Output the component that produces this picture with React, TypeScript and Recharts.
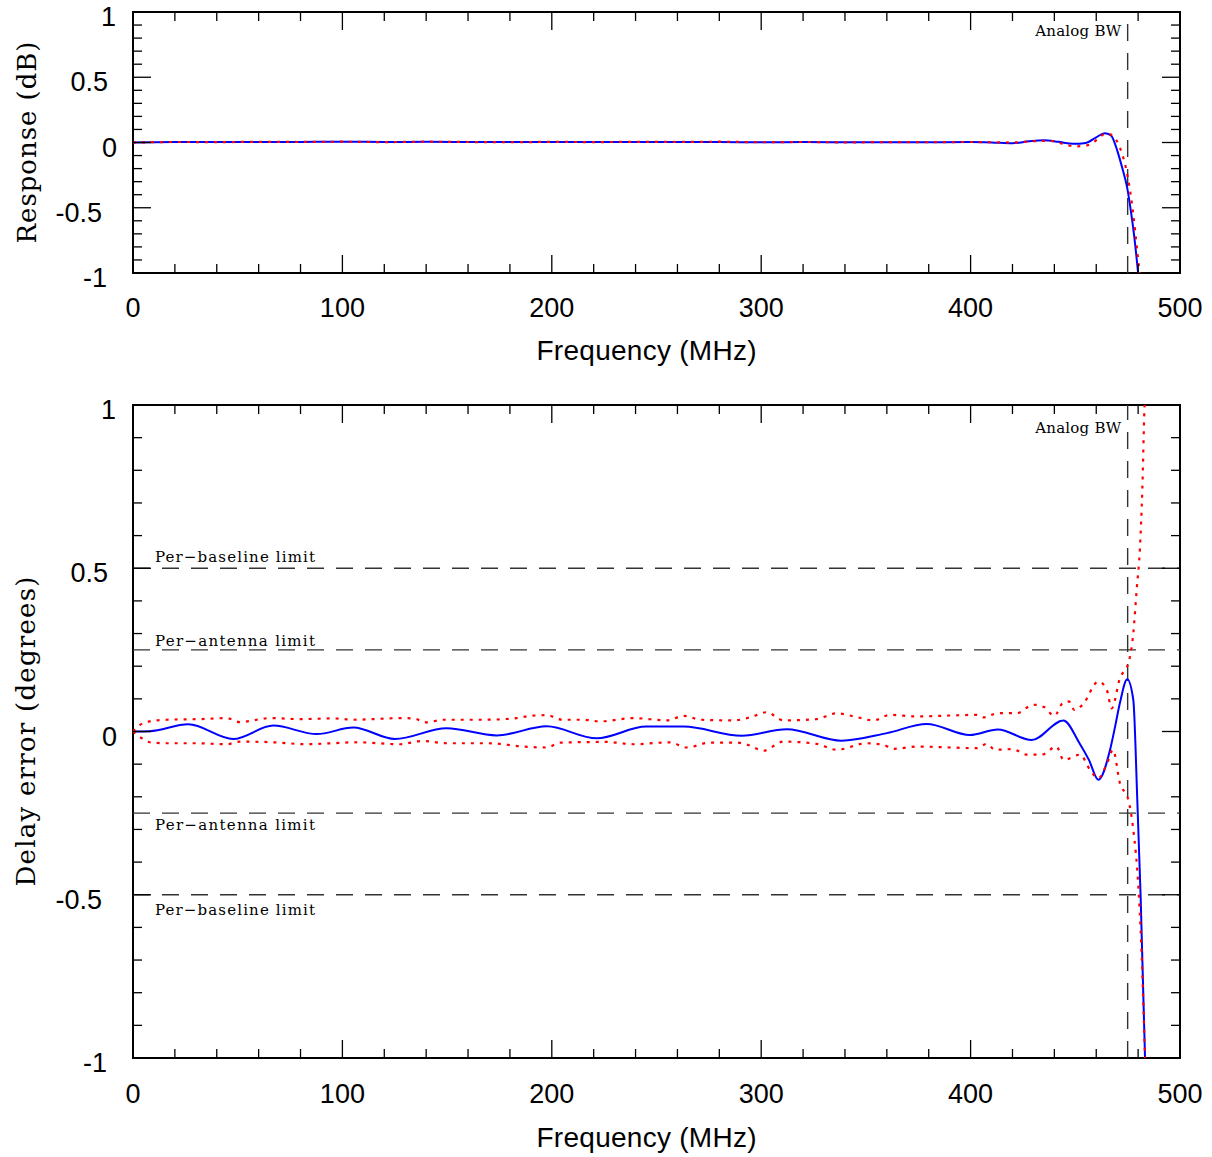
import React from 'react';
import { LineChart, Line, XAxis, YAxis, ReferenceLine, ReferenceArea, Label } from 'recharts';

// ---------- Data ----------
const xTicks = [0, 20, 40, 60, 80, 100, 120, 140, 160, 180, 200, 220, 240, 260, 280, 300, 320, 340, 360, 380, 400, 420, 440, 460, 480, 500];
const yTicks = [-1, -0.9, -0.8, -0.7, -0.6, -0.5, -0.4, -0.3, -0.2, -0.1, 0, 0.1, 0.2, 0.3, 0.4, 0.5, 0.6, 0.7, 0.8, 0.9, 1];
const analogBW = 475;
const baselineLimit = 0.5;
const antennaLimit = 0.25;

// Top panel: response (dB)
const respBlueFreq = [0, 20, 40, 60, 80, 100, 120, 140, 160, 180, 200, 220, 240, 260, 280, 300, 320, 340, 360, 380, 400, 410, 420, 428, 435, 442, 449, 455, 460, 464, 467, 470, 472.5, 474.7, 476.5, 478, 480, 481.5];
const respBlue = [0, 0.003, 0.004, 0.003, 0.004, 0.006, 0.004, 0.005, 0.004, 0.003, 0.004, 0.003, 0.004, 0.003, 0.004, 0.001, 0.003, 0.002, 0.001, 0.002, 0.003, 0.0, -0.006, 0.01, 0.018, 0.005, -0.01, -0.003, 0.04, 0.07, 0.055, -0.06, -0.2, -0.34, -0.52, -0.7, -1.0, -1.25];
const respRedFreq = [0, 20, 40, 60, 80, 100, 120, 140, 160, 180, 200, 220, 240, 260, 280, 300, 320, 340, 360, 380, 400, 410, 420, 430, 438, 444, 450, 456, 461, 464.5, 468, 470.5, 472.8, 475, 477.6, 479.5, 481, 482];
const respRed = [0, 0.004, 0.003, 0.005, 0.004, 0.006, 0.003, 0.006, 0.004, 0.002, 0.005, 0.003, 0.005, 0.004, 0.006, 0.002, 0.004, 0.001, 0.003, 0.002, 0.004, 0.002, 0.0, 0.01, 0.012, -0.01, -0.03, -0.02, 0.03, 0.07, 0.05, -0.01, -0.11, -0.26, -0.54, -0.82, -1.05, -1.2];

// Bottom panel: delay error (degrees)
const delayBlueFreq = [0, 8, 26.4, 47.9, 67, 87.7, 105.2, 125.1, 149.8, 173.7, 197.6, 221.4, 245, 263, 290.7, 312.2, 338.4, 360, 379.1, 399.7, 413, 429.2, 444.3, 452, 456.5, 461, 466.6, 469, 471.3, 474.8, 477.7, 479.6, 481.2, 483.3, 484];
const delayBlue = [0, 0.001, 0.022, -0.023, 0.018, -0.008, 0.012, -0.023, 0.010, -0.012, 0.016, -0.021, 0.015, 0.015, -0.013, 0.007, -0.028, -0.005, 0.023, -0.011, 0.006, -0.026, 0.034, -0.036, -0.087, -0.148, -0.056, 0.015, 0.087, 0.16, 0.097, -0.209, -0.505, -1.0, -1.2];
const delayUpperFreq = [0, 3.3, 8, 16, 32, 44.7, 51, 65.4, 79.8, 95.7, 105.2, 127.5, 134, 140.2, 148.2, 167.3, 183.2, 189.6, 197.6, 205, 215, 223, 239, 255, 263, 271, 287, 295, 302.6, 310.6, 326.5, 336, 345.6, 353.5, 361.5, 374, 390, 403, 406, 413, 422, 430, 435, 440, 444, 447, 449.5, 453.5, 461, 465, 467.4, 471.3, 475.3, 477.7, 479.3, 480.9, 482, 483, 484];
const delayUpper = [0, 0.02, 0.031, 0.036, 0.038, 0.041, 0.029, 0.041, 0.038, 0.04, 0.036, 0.041, 0.04, 0.028, 0.036, 0.036, 0.041, 0.048, 0.05, 0.036, 0.036, 0.031, 0.041, 0.034, 0.048, 0.036, 0.034, 0.044, 0.059, 0.034, 0.038, 0.056, 0.044, 0.034, 0.051, 0.046, 0.049, 0.051, 0.043, 0.056, 0.056, 0.082, 0.075, 0.048, 0.087, 0.092, 0.066, 0.082, 0.153, 0.128, 0.071, 0.163, 0.209, 0.301, 0.434, 0.566, 0.74, 0.985, 1.1];
const delayLowerFreq = [0, 4, 8, 16, 30, 44.7, 51, 67, 83, 95, 107, 127.5, 138, 150, 170, 186, 197.6, 204, 226, 239, 256.4, 264.4, 275.6, 288.3, 294.6, 301, 310.6, 326.5, 336, 350.4, 358.4, 363.1, 375, 390.2, 402.9, 407.7, 411.7, 420, 427, 434, 441, 444.4, 452.3, 457, 461, 465.2, 468, 471.3, 475.3, 477.7, 480, 481.6, 483.3, 484];
const delayLower = [0, -0.02, -0.033, -0.036, -0.036, -0.039, -0.031, -0.033, -0.039, -0.036, -0.033, -0.039, -0.029, -0.036, -0.036, -0.046, -0.049, -0.034, -0.032, -0.039, -0.033, -0.049, -0.034, -0.034, -0.043, -0.059, -0.031, -0.038, -0.056, -0.036, -0.041, -0.053, -0.046, -0.049, -0.051, -0.038, -0.056, -0.054, -0.071, -0.071, -0.046, -0.087, -0.071, -0.117, -0.143, -0.097, -0.056, -0.158, -0.209, -0.301, -0.464, -0.668, -1.0, -1.15];

const toSeries = (fs: number[], vs: number[]) => fs.map((f, i) => ({ f, v: vs[i] }));

// ---------- Styling ----------
const PLOT_R = 1180;
const SANS = '"Liberation Sans", Arial, Helvetica, sans-serif';
const SERIF = '"DejaVu Serif", "Liberation Serif", serif';
const DASH = '17 12';
const yLabelRight: Record<string, number> = { '1': 116, '0.5': 108, '0': 117, '-0.5': 102, '-1': 107 };

function makeXTick(plotH: number, labelDy: number) {
  return (props: any) => {
    const { x, y, payload } = props;
    const v = payload.value;
    const major = v % 100 === 0;
    const len = major ? 18 : 9;
    const top = y - plotH;
    return (
      <g>
        <line x1={x} x2={x} y1={y} y2={y - len} stroke="#000" strokeWidth={1.3} />
        <line x1={x} x2={x} y1={top} y2={top + len} stroke="#000" strokeWidth={1.3} />
        {major && (
          <text x={x} y={y + labelDy} textAnchor="middle" fontFamily={SANS} fontSize={27} fill="#000">
            {v}
          </text>
        )}
      </g>
    );
  };
}

function YTick(props: any) {
  const { x, y, payload } = props;
  const v = payload.value;
  const major = Math.abs(v * 2 - Math.round(v * 2)) < 1e-6;
  const len = major ? 18 : 9;
  const label = String(Math.round(v * 10) / 10);
  return (
    <g>
      <line x1={x} x2={x + len} y1={y} y2={y} stroke="#000" strokeWidth={1.3} />
      <line x1={PLOT_R} x2={PLOT_R - len} y1={y} y2={y} stroke="#000" strokeWidth={1.3} />
      {major && (
        <text x={yLabelRight[label] ?? 112} y={y + 14} textAnchor="end" fontFamily={SANS} fontSize={27} fill="#000">
          {label}
        </text>
      )}
    </g>
  );
}

const xTitle = (dy: number) => (p: any) => {
  const vb = p.viewBox;
  return (
    <text x={vb.x + vb.width / 2 - 10} y={vb.y + dy} textAnchor="middle" fontFamily={SANS} fontSize={28} fill="#000" textLength={220} lengthAdjust="spacing">
      Frequency (MHz)
    </text>
  );
};

const yTitle = (text: string, bx: number, len: number) => (p: any) => {
  const vb = p.viewBox;
  const cy = vb.y + vb.height / 2;
  return (
    <text
      x={bx}
      y={cy}
      transform={`rotate(-90 ${bx} ${cy})`}
      textAnchor="middle"
      fontFamily={SERIF}
      fontSize={26}
      fill="#000"
      textLength={len}
      lengthAdjust="spacing"
    >
      {text}
    </text>
  );
};

const analogLabel = (dy: number) => (p: any) => {
  const vb = p.viewBox;
  return (
    <text x={vb.x - 6.5} y={vb.y + dy} textAnchor="end" fontFamily={SERIF} fontSize={15} fill="#000" textLength={86} lengthAdjust="spacing">
      Analog BW
    </text>
  );
};

const limitLabel = (text: string, dy: number) => (p: any) => {
  const vb = p.viewBox;
  return (
    <text x={vb.x + 22} y={vb.y + dy} textAnchor="start" fontFamily={SERIF} fontSize={15} fill="#000" textLength={160} lengthAdjust="spacing">
      {text}
    </text>
  );
};

function Panel(props: {
  height: number;
  top: number;
  xAxisH: number;
  tickDy: number;
  titleDy: number;
  yText: string;
  yTextX: number;
  yTextLen: number;
  analogDy: number;
  children?: React.ReactNode;
  limits?: boolean;
}) {
  const plotH = props.height - props.top - props.xAxisH;
  return (
    <LineChart width={1212} height={props.height} margin={{ top: props.top, right: 1212 - PLOT_R, left: 0, bottom: 0 }}>
      <XAxis
        type="number"
        dataKey="f"
        domain={[0, 500]}
        ticks={xTicks}
        interval={0}
        height={props.xAxisH}
        tickSize={0}
        tickMargin={0}
        axisLine={false}
        tickLine={false}
        tick={makeXTick(plotH, props.tickDy)}
        allowDataOverflow
      >
        <Label content={xTitle(props.titleDy)} />
      </XAxis>
      <YAxis
        type="number"
        domain={[-1, 1]}
        ticks={yTicks}
        interval={0}
        width={133}
        tickSize={0}
        tickMargin={0}
        axisLine={false}
        tickLine={false}
        tick={YTick}
        allowDataOverflow
      >
        <Label content={yTitle(props.yText, props.yTextX, props.yTextLen)} />
      </YAxis>
      <ReferenceArea x1={0} x2={500} y1={-1} y2={1} fill="none" fillOpacity={0} stroke="#000" strokeWidth={2} />
      {props.limits && (
        <ReferenceLine y={baselineLimit} stroke="#333" strokeWidth={1.4} strokeDasharray={DASH} label={{ content: limitLabel('Per\u2212baseline limit', -6) } as any} />
      )}
      {props.limits && (
        <ReferenceLine y={antennaLimit} stroke="#333" strokeWidth={1.4} strokeDasharray={DASH} label={{ content: limitLabel('Per\u2212antenna limit', -4) } as any} />
      )}
      {props.limits && (
        <ReferenceLine y={-antennaLimit} stroke="#333" strokeWidth={1.4} strokeDasharray={DASH} label={{ content: limitLabel('Per\u2212antenna limit', 17) } as any} />
      )}
      {props.limits && (
        <ReferenceLine y={-baselineLimit} stroke="#333" strokeWidth={1.4} strokeDasharray={DASH} label={{ content: limitLabel('Per\u2212baseline limit', 20) } as any} />
      )}
      <ReferenceLine x={analogBW} stroke="#333" strokeWidth={1.4} strokeDasharray={DASH} label={{ content: analogLabel(props.analogDy) } as any} />
      {props.children}
    </LineChart>
  );
}

export default function App() {
  return (
    <div style={{ position: 'absolute', left: 0, top: 0, width: 1212, height: 1157, background: '#fff' }}>
      <div style={{ position: 'absolute', left: 0, top: 0 }}>
        <Panel height={390} top={12} xAxisH={117} tickDy={44} titleDy={87} yText="Response (dB)" yTextX={36} yTextLen={202} analogDy={24}>
          <Line data={toSeries(respBlueFreq, respBlue)} dataKey="v" type="monotone" stroke="#0000ff" strokeWidth={2} dot={false} isAnimationActive={false} />
          <Line data={toSeries(respRedFreq, respRed)} dataKey="v" type="monotone" stroke="#ff0000" strokeWidth={2.2} strokeDasharray="3 6" dot={false} isAnimationActive={false} />
        </Panel>
      </div>
      <div style={{ position: 'absolute', left: 0, top: 390 }}>
        <Panel height={767} top={15} xAxisH={99} tickDy={45} titleDy={89} yText="Delay error (degrees)" yTextX={35} yTextLen={310} analogDy={28} limits>
          <Line data={toSeries(delayBlueFreq, delayBlue)} dataKey="v" type="monotone" stroke="#0000ff" strokeWidth={2} dot={false} isAnimationActive={false} />
          <Line data={toSeries(delayUpperFreq, delayUpper)} dataKey="v" type="monotone" stroke="#ff0000" strokeWidth={2.2} strokeDasharray="3 6" dot={false} isAnimationActive={false} />
          <Line data={toSeries(delayLowerFreq, delayLower)} dataKey="v" type="monotone" stroke="#ff0000" strokeWidth={2.2} strokeDasharray="3 6" dot={false} isAnimationActive={false} />
        </Panel>
      </div>
    </div>
  );
}
